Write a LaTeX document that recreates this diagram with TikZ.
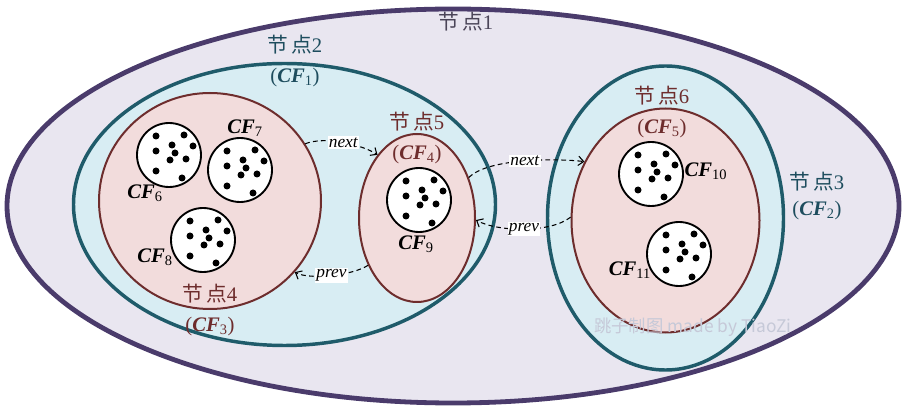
\documentclass[tikz,border=0pt]{standalone}
\usepackage{fontspec}
\setmainfont{Liberation Serif}
\newfontfamily\cjk{Noto Sans CJK SC}
\usetikzlibrary{shapes.geometric, arrows.meta, positioning, calc}

\definecolor{raizborde}{HTML}{4A3B6B}
\definecolor{raizfondo}{HTML}{E9E6F0}
\definecolor{medioborde}{HTML}{1F5B6A}
\definecolor{mediofondo}{HTML}{D8EDF3}
\definecolor{hojaborde}{HTML}{6E2D2D}
\definecolor{hojafondo}{HTML}{F2DCDC}
\definecolor{textoraiz}{HTML}{4B4558}
\definecolor{textomedio}{HTML}{1E4D5E}
\definecolor{marcagua}{HTML}{C6C9D8}

\newcommand{\cfsub}[1]{\textbf{\textit{CF}}\textsubscript{#1}}
\newcommand{\nodotxt}[1]{{\cjk 节\hspace{2pt}点}#1}

\begin{document}
\begin{tikzpicture}[
    x=0.75pt, y=-0.75pt,
    every node/.style={inner sep=0pt},
    raiz/.style={ellipse, draw=raizborde, line width=3.6pt, fill=raizfondo},
    intermedio/.style={ellipse, draw=medioborde, line width=2.6pt, fill=mediofondo},
    hojanodo/.style={ellipse, draw=hojaborde, line width=1.5pt, fill=hojafondo},
    cfhoja/.style={circle, draw=black, line width=1.4pt, fill=white, minimum size=48pt},
    etqraiz/.style={text=textoraiz, font=\fontsize{15.5}{22}\selectfont, align=center},
    etqmedio/.style={text=textomedio, font=\fontsize{15.5}{22}\selectfont, align=center},
    etqhoja/.style={text=hojaborde, font=\fontsize{15.5}{22}\selectfont, align=center},
    etqcf/.style={font=\fontsize{15.5}{17}\selectfont},
    enlace/.style={dash pattern=on 3.5pt off 2.5pt, line width=0.8pt, -{Straight Barb[length=4pt, width=7pt]}},
    rotulo/.style={fill=white, font=\itshape\fontsize{13}{15}\selectfont, inner sep=1pt},
    marca/.style={text=marcagua, font=\cjk\fontsize{13}{15}\selectfont}
]
\useasboundingbox (0,0) rectangle (906,409);

% ============== Nodo raiz ==============
\node[raiz, minimum width=669pt, minimum height=295.5pt] (nodo1) at (453,206) {};

% ============== Nodos intermedios ==============
\node[intermedio, minimum width=316.5pt, minimum height=211.5pt] (nodo2) at (284.5,204.5) {};
\node[intermedio, minimum width=177pt, minimum height=228pt] (nodo3) at (665.5,218) {};

% ============== Nodos hoja ==============
\node[hojanodo, minimum width=166.5pt, minimum height=162pt] (nodo4) at (210,201) {};
\node[hojanodo, minimum width=87pt, minimum height=126pt] (nodo5) at (417,218) {};
\node[hojanodo, minimum width=141pt, minimum height=168pt] (nodo6) at (665.5,220.5) {};

% ============== Entradas CF ==============
\node[cfhoja] (cf6) at (169,155) {};
\node[cfhoja] (cf7) at (240,170) {};
\node[cfhoja] (cf8) at (203,240) {};
\node[cfhoja] (cf9) at (419,200) {};
\node[cfhoja] (cf10) at (651,174) {};
\node[cfhoja] (cf11) at (679,254) {};

% puntos de datos dentro de cada CF
\foreach \hoja in {cf6,cf7,cf8,cf9,cf10,cf11}
  \foreach \dx/\dy in {-13/-19, 15/-20, 24/-9, 3/-10, -13/-4, 6/-2, 1/5, 17/4, -13/16, 13/23}
    \fill ($(\hoja)+(\dx,\dy)$) circle[radius=3.5];

% ============== Etiquetas ==============
\node[etqraiz] (t1) at (466,22) {\nodotxt{1}};
\node[etqmedio] (t2) at (295,61) {\nodotxt{2}\\(\cfsub{1})};
\node[etqmedio, font=\fontsize{15.5}{19}\selectfont] (t3) at (817,196) {\nodotxt{3}\\(\cfsub{2})};
\node[etqhoja] (t4) at (210,310) {\nodotxt{4}\\(\cfsub{3})};
\node[etqhoja] (t5) at (417,138) {\nodotxt{5}\\(\cfsub{4})};
\node[etqhoja] (t6) at (662,112) {\nodotxt{6}\\(\cfsub{5})};

\node[etqcf] at ($(cf6)+(-24,38)$) {\cfsub{6}};
\node[etqcf] at ($(cf7)+(5,-42)$) {\cfsub{7}};
\node[etqcf] at ($(cf8)+(-48,17)$) {\cfsub{8}};
\node[etqcf] at ($(cf9)+(-3,44)$) {\cfsub{9}};
\node[etqcf] at ($(cf10)+(55,-3)$) {\cfsub{10}};
\node[etqcf] at ($(cf11)+(-49,16)$) {\cfsub{11}};

% ============== Enlaces next / prev ==============
\draw[enlace] (nodo4.31) .. controls +(20,-8) and +(-15,-10) .. node[rotulo]{next} (nodo5.122);
\draw[enlace] (nodo5.224) .. controls +(-15,10) and +(15,8) .. node[rotulo]{prev} (nodo4.320);
\draw[enlace] (nodo5.38) .. controls +(20,-20) and +(-25,-3) .. node[rotulo]{next} (nodo6.144);
\draw[enlace] (nodo6.178) .. controls +(-20,16) and +(22,12) .. node[rotulo]{prev} (nodo5.358);

% ============== Marca de agua ==============
\node[marca] (firma) at (693,327) {跳子制图 made by TiaoZi};
\end{tikzpicture}
\end{document}
